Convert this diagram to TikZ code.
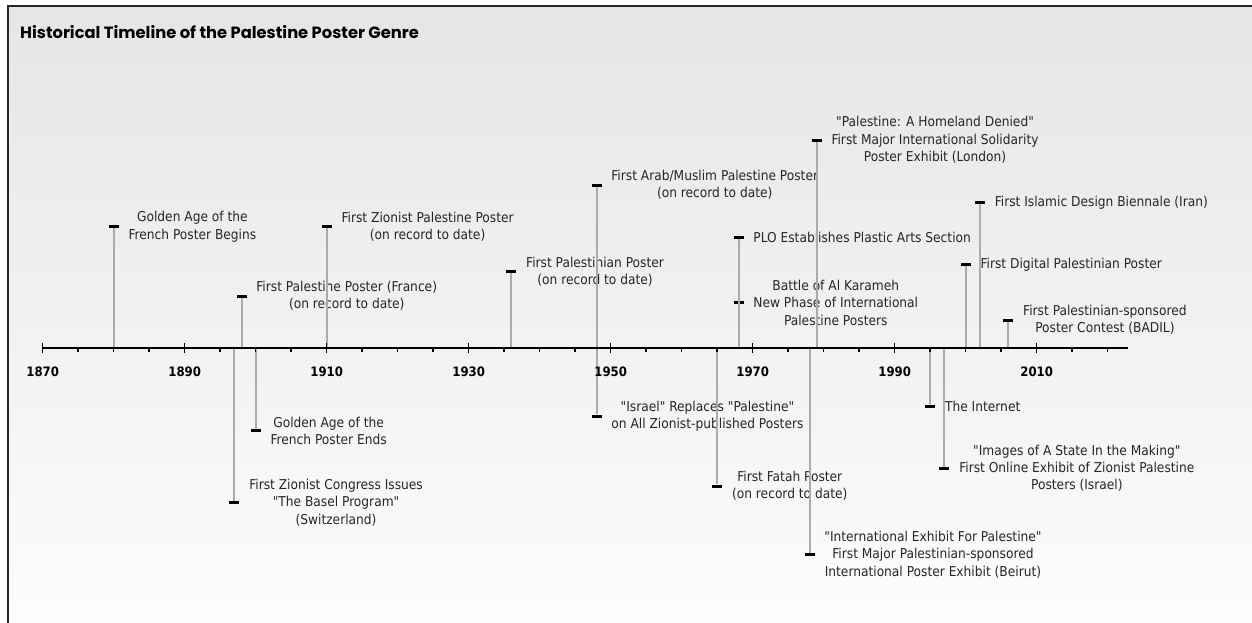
\documentclass[tikz,border=0pt]{standalone}
\usepackage{fontspec}
\setmainfont{DejaVu Sans Condensed}[Ligatures=TeXOff]
\newfontfamily\titlefont{Poppins}
\usetikzlibrary{positioning}

\begin{document}
\begin{tikzpicture}[
        x=1pt, y=-1pt,
        declare function={yx(\t)=42.7+7.1*(\t-1870);},
        evmark/.style={rectangle, fill=black, inner sep=0pt, minimum width=10pt, minimum height=3pt},
        stem/.style={draw=black!33, line width=2pt},
        evtext/.style={font=\fontsize{13.6}{17.3}\selectfont, align=center, inner sep=0pt, text=black!85},
        yearlbl/.style={font=\fontsize{13}{15}\selectfont\bfseries, inner sep=0pt},
        ticks/.style={line width=1.5pt}
    ]
    \useasboundingbox (0,0) rectangle (1252,623);
    \shade[top color=black!10, bottom color=black!1] (8,6) rectangle (1252,623);
    \draw[line width=2pt, black!85] (8,623) -- (8,6) -- (1252,6);

    \node[anchor=base west, inner sep=0pt, font=\titlefont\bfseries\fontsize{16.3}{18}\selectfont] (title) at (20,39) {Historical Timeline of the Palestine Poster Genre};

    % axis
    \coordinate (axL) at (42.7,348);
    \coordinate (axR) at (1128,348);

    % events above the axis
    \node[evmark] (gaBegin) at ({yx(1880)},226.7) {};
    \node[evtext, right=9.5pt of gaBegin] (gaBeginT) {Golden Age of the\\French Poster Begins};
    \node[evmark] (firstPal) at ({yx(1898)},296) {};
    \node[evtext, right=9.5pt of firstPal] (firstPalT) {First Palestine Poster (France)\\(on record to date)};
    \node[evmark] (zionPal) at ({yx(1910)},226.7) {};
    \node[evtext, right=9.5pt of zionPal] (zionPalT) {First Zionist Palestine Poster\\(on record to date)};
    \node[evmark] (palPoster) at ({yx(1936)},271.7) {};
    \node[evtext, right=9.5pt of palPoster] (palPosterT) {First Palestinian Poster\\(on record to date)};
    \node[evmark] (arabPoster) at ({yx(1948)},185) {};
    \node[evtext, right=9.5pt of arabPoster] (arabPosterT) {First Arab/Muslim Palestine Poster\\(on record to date)};
    \node[evmark] (plo) at ({yx(1968)},237.3) {};
    \node[evtext, right=9.5pt of plo] (ploT) {PLO Establishes Plastic Arts Section};
    \node[evmark] (karameh) at ({yx(1968)},302.7) {};
    \node[evtext, right=9.5pt of karameh] (karamehT) {Battle of Al Karameh\\New Phase of International\\Palestine Posters};
    \node[evmark] (london) at ({yx(1979)},140) {};
    \node[evtext, right=9.5pt of london] (londonT) {"Palestine: A Homeland Denied"\\First Major International Solidarity\\Poster Exhibit (London)};
    \node[evmark] (digital) at ({yx(2000)},264.7) {};
    \node[evtext, right=9.5pt of digital] (digitalT) {First Digital Palestinian Poster};
    \node[evmark] (islamic) at ({yx(2002)},202.3) {};
    \node[evtext, right=9.5pt of islamic] (islamicT) {First Islamic Design Biennale (Iran)};
    \node[evmark] (badil) at ({yx(2006)},320) {};
    \node[evtext, right=9.5pt of badil] (badilT) {First Palestinian-sponsored\\Poster Contest (BADIL)};

    % events below the axis
    \node[evmark] (basel) at ({yx(1897)},502.7) {};
    \node[evtext, right=9.5pt of basel] (baselT) {First Zionist Congress Issues\\"The Basel Program"\\(Switzerland)};
    \node[evmark] (gaEnd) at ({yx(1900)},430.7) {};
    \node[evtext, right=9.5pt of gaEnd] (gaEndT) {Golden Age of the\\French Poster Ends};
    \node[evmark] (israel) at ({yx(1948)},416) {};
    \node[evtext, right=9.5pt of israel] (israelT) {"Israel" Replaces "Palestine"\\on All Zionist-published Posters};
    \node[evmark] (fatah) at ({yx(1965)},486) {};
    \node[evtext, right=9.5pt of fatah] (fatahT) {First Fatah Poster\\(on record to date)};
    \node[evmark] (beirut) at ({yx(1978)},554.7) {};
    \node[evtext, right=9.5pt of beirut] (beirutT) {"International Exhibit For Palestine"\\First Major Palestinian-sponsored\\International Poster Exhibit (Beirut)};
    \node[evmark] (internet) at ({yx(1995)},406) {};
    \node[evtext, right=9.5pt of internet] (internetT) {The Internet};
    \node[evmark] (images) at ({yx(1997)},468.3) {};
    \node[evtext, right=9.5pt of images] (imagesT) {"Images of A State In the Making"\\First Online Exhibit of Zionist Palestine\\Posters (Israel)};

    % stems
    \foreach \ev in {gaBegin,firstPal,zionPal,palPoster,plo,london,digital,islamic,badil}
        \draw[stem] (\ev.south) -- (\ev.south |- axL);
    \foreach \ev in {basel,gaEnd,fatah,beirut,internet,images}
        \draw[stem] (\ev.north) -- (\ev.north |- axL);
    \draw[stem] (arabPoster.south) -- (israel.north);

    % axis line, ticks and years
    \draw[line width=2pt] (axL) -- (axR);
    \foreach \t in {1875,1880,...,2020}
        \draw[ticks] ({yx(\t)},348) -- ++(0,4);
    \foreach \t in {1870,1890,...,2010} {
        \draw[ticks] ({yx(\t)},343) -- ++(0,10);
        \node[yearlbl] (y\t) at ({yx(\t)},372) {\t};
    }
\end{tikzpicture}
\end{document}
